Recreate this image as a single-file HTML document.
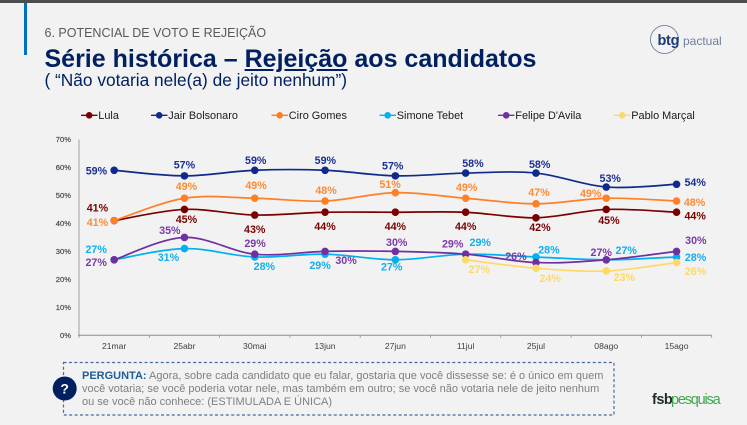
<!DOCTYPE html>
<html lang="pt">
<head>
<meta charset="utf-8">
<title>Série histórica – Rejeição aos candidatos</title>
<style>
html,body{margin:0;padding:0;background:#f2f2f2;}
#page{position:relative;width:747px;height:425px;overflow:hidden;background:#f2f2f2;font-family:"Liberation Sans",sans-serif;}
#page div,#page span{position:absolute;white-space:nowrap;}
#page span.in{position:static;}
svg{position:absolute;left:0;top:0;}
</style>
</head>
<body>
<div id="page">
  <div style="left:0;top:0;width:747px;height:3px;background:#4d4d4d"></div>
  <div style="left:24px;top:3px;width:3px;height:52px;background:#0070c0"></div>
  <div style="left:44.5px;top:25.5px;font-size:12.5px;line-height:15px;color:#595959">6. POTENCIAL DE VOTO E REJEIÇÃO</div>
  <div style="left:44.5px;top:44px;font-size:25px;line-height:30px;font-weight:bold;color:#002060">Série histórica – <span class="in" style="text-decoration:underline">Rejeição</span> aos candidatos</div>
  <div style="left:44.5px;top:70.5px;font-size:17.3px;line-height:19px;color:#002060">( “Não votaria nele(a) de jeito nenhum”)</div>

  <svg width="747" height="425" viewBox="0 0 747 425" id="chart">
    <g>
      <circle cx="664.5" cy="39.5" r="14" fill="none" stroke="#5a6f9e" stroke-width="0.8"/>
      <text x="657.5" y="45" font-size="14.5" font-weight="bold" fill="#1c3a78" font-family="Liberation Sans" letter-spacing="-0.3">btg</text>
      <text x="683" y="45" font-size="12" fill="#6d7f9f" font-family="Liberation Sans">pactual</text>
    </g>
    <g>
      <text x="652" y="404" font-size="14.5" font-weight="bold" fill="#1f2d2a" font-family="Liberation Sans" letter-spacing="-0.5">fsb</text>
      <text x="671" y="404" font-size="14.5" fill="#3fa84f" font-family="Liberation Sans" letter-spacing="-1.2">pesquisa</text>
    </g>
    <rect x="63.5" y="362.5" width="550.5" height="52.5" fill="none" stroke="#4a66a3" stroke-width="1.2" stroke-dasharray="3 2.4"/>
    <circle cx="64.7" cy="388.5" r="12" fill="#002060"/>
    <text x="64.7" y="393.5" font-size="14" font-weight="bold" fill="#ffffff" text-anchor="middle" font-family="Liberation Sans">?</text>
  </svg>

  <div style="left:82px;top:370.2px;font-size:11px;line-height:13px;color:#7f7f7f"><span class="in" style="font-weight:bold;color:#1f5c99">PERGUNTA:</span> Agora, sobre cada candidato que eu falar, gostaria que você dissesse se: é o único em quem<br>você votaria; se você poderia votar nele, mas também em outro; se você não votaria nele de jeito nenhum<br>ou se você não conhece: (ESTIMULADA E ÚNICA)</div>
</div>

<script>
const categories = ['21mar','25abr','30mai','13jun','27jun','11jul','25jul','08ago','15ago'];
const yTickValues = [0,10,20,30,40,50,60,70];
const seriesNames = ['Lula','Jair Bolsonaro','Ciro Gomes','Simone Tebet',"Felipe D'Avila",'Pablo Marçal'];
const lula = [41,45,43,44,44,44,42,45,44];
const bolsonaro = [59,57,59,59,57,58,58,53,54];
const ciro = [41,49,49,48,51,49,47,49,48];
const tebet = [27,31,28,29,27,29,28,27,28];
const felipe = [27,35,29,30,30,29,26,27,30];
const pablo = [null,null,null,null,null,27,24,23,26];

const allSeries = [lula,bolsonaro,ciro,tebet,felipe,pablo];
const colors = ['#7b0000','#0f2a8a','#ff7f27','#00b0f0','#7030a0','#ffd966'];
const textColors = ['#7b0000','#1c2f94','#ff8a33','#12aef0','#7a3aa8','#ffd966'];
const seriesKeys = ['lula','bolsonaro','ciro','tebet','felipe','pablo'];
const legendLineStart = [81,151,271.5,379.5,498,614];

/* Hand placement of each printed value relative to its own point (layout, not data) */
const labelNudge = {
  lula:[[-16.7,-13],[2,10],[0,14.3],[0,14],[0,14],[0,14],[4,9.5],[2.7,11],[18.6,3.5]],
  bolsonaro:[[-17.7,0.6],[0,-11],[1,-10],[0.3,-10],[-2.6,-10],[7.3,-10],[3.7,-9],[4,-9],[18.6,-2]],
  ciro:[[-16.7,1.4],[2,-12],[1.3,-13],[1,-10.7],[-5.3,-8.6],[1,-11],[3,-11.5],[-15.6,-5],[18,1.3]],
  tebet:[[-18,-10.5],[-16,8.7],[9.6,9],[-5,11],[-3.6,7],[14.6,-12],[13,-7.3],[20,-9.8],[19,0]],
  felipe:[[-18,2.5],[-14.6,-7],[0.3,-11],[21,9],[1.4,-9.4],[-13,-10.5],[-20,-6.3],[-5,-7.5],[19.3,-11]],
  pablo:[null,null,null,null,null,[13.6,9.5],[14.3,10],[18,6.3],[19,8.7]]
};

const svgNS = 'http://www.w3.org/2000/svg';
const svg = document.getElementById('chart');
const plot = {left:79, right:711.7, top:139.5, bottom:335.3, yMax:70};

function xScale(i){
  const band = (plot.right - plot.left) / categories.length;
  return plot.left + band * (i + 0.5);
}
function xEdge(i){
  const band = (plot.right - plot.left) / categories.length;
  return plot.left + band * i;
}
function yScale(v){
  return plot.bottom - (v / plot.yMax) * (plot.bottom - plot.top);
}
function make(tag, attrs, parent){
  const el = document.createElementNS(svgNS, tag);
  for (const k in attrs) el.setAttribute(k, attrs[k]);
  (parent || svg).appendChild(el);
  return el;
}
function smoothPath(pts){
  let d = 'M' + pts[0][0] + ' ' + pts[0][1];
  for (let i = 0; i < pts.length - 1; i++){
    const p0 = pts[Math.max(i-1,0)], p1 = pts[i], p2 = pts[i+1], p3 = pts[Math.min(i+2,pts.length-1)];
    const c1x = p1[0] + (p2[0]-p0[0])/6, c1y = p1[1] + (p2[1]-p0[1])/6;
    const c2x = p2[0] - (p3[0]-p1[0])/6, c2y = p2[1] - (p3[1]-p1[1])/6;
    d += ' C' + c1x + ' ' + c1y + ' ' + c2x + ' ' + c2y + ' ' + p2[0] + ' ' + p2[1];
  }
  return d;
}

/* Axes */
const axisY = make('line',{x1:plot.left,x2:plot.left,y1:plot.top,y2:plot.bottom,stroke:'#bfbfbf','stroke-width':1.6});


const axisX = make('line',{x1:plot.left-1,x2:plot.right,y1:plot.bottom,y2:plot.bottom,stroke:'#8c8c8c','stroke-width':1});



yTickValues.forEach(function(v){
  const t = make('text',{x:71,y:yScale(v)+2.7,'text-anchor':'end','font-size':7.6,fill:'#404040','font-family':'Liberation Sans','stroke':'#404040','stroke-width':0.15});
  t.textContent = v + '%';
  
  
});
for (let i = 0; i <= categories.length; i++){
  const m = make('line',{x1:xEdge(i),x2:xEdge(i),y1:plot.bottom,y2:plot.bottom+2.5,stroke:'#8c8c8c','stroke-width':0.8});
  
  
}
categories.forEach(function(c,i){
  const t = make('text',{x:xScale(i),y:349,'text-anchor':'middle','font-size':8.6,fill:'#404040','font-family':'Liberation Sans'});
  t.textContent = c;
  
  
});

/* Legend */
seriesNames.forEach(function(name,s){
  const g = make('g',{});
  
  
  const x0 = legendLineStart[s];
  make('line',{x1:x0,x2:x0+16.5,y1:115.3,y2:115.3,stroke:colors[s],'stroke-width':1.3},g);
  make('circle',{cx:x0+8.2,cy:115.3,r:3.3,fill:colors[s]},g);
  const t = make('text',{x:x0+17.3,y:119,'font-size':10.9,fill:'#1a1a1a','font-family':'Liberation Sans'},g);
  t.textContent = name;
});

/* Series lines and markers */
allSeries.forEach(function(values,s){
  const key = seriesKeys[s];
  const g = make('g',{});
  
  
  const pts = [];
  values.forEach(function(v,i){ if (v !== null) pts.push([xScale(i),yScale(v)]); });
  const line = make('path',{d:smoothPath(pts),fill:'none',stroke:colors[s],'stroke-width':1.7},g);
  
  
  values.forEach(function(v,i){
    if (v === null) return;
    const c = make('circle',{cx:xScale(i),cy:yScale(v),r:3.8,fill:colors[s]},g);
    
    
  });
});

/* Value labels */
allSeries.forEach(function(values,s){
  const key = seriesKeys[s];
  values.forEach(function(v,i){
    if (v === null) return;
    const n = labelNudge[key][i];
    const t = make('text',{x:xScale(i)+n[0],y:yScale(v)+n[1]+3.8,'text-anchor':'middle','font-size':10.7,'font-weight':'bold',fill:textColors[s],'font-family':'Liberation Sans'});
    t.textContent = v + '%';
    
    
  });
});
</script>
</body>
</html>
